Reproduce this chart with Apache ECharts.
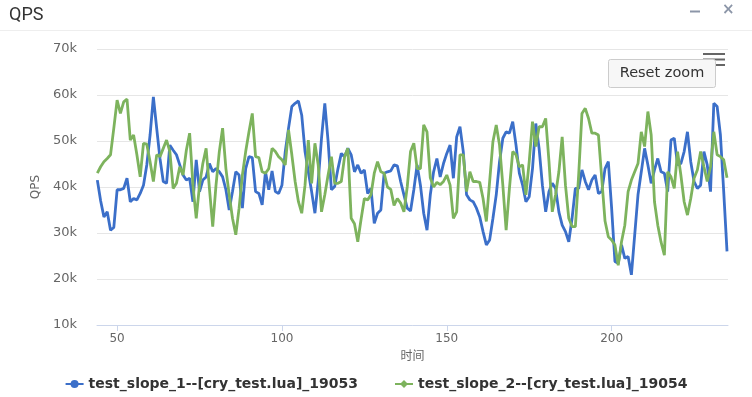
<!DOCTYPE html>
<html><head><meta charset="utf-8">
<script src="https://cdn.jsdelivr.net/npm/echarts@6/dist/echarts.min.js"></script>
<style>html,body{margin:0;padding:0;background:#fff}#c{width:752px;height:397px}</style>
</head><body><div id="c"></div>
<script>
// time axis: first sample time, one sample per time unit
const timeStart = 44;
const seriesNames = ['test_slope_1--[cry_test.lua]_19053', 'test_slope_2--[cry_test.lua]_19054'];
// QPS values in thousands (k)
const qps1 = [
41.5,37,33.5,34.6,30.6,31.2,39.4,39.4,39.7,41.9,36.8,37.5,37.2,38.6,40.4,44.8,51.3,59.6,52.8,46.2,
41.2,40.8,49.1,48,47,44.8,42.6,41.5,41.9,36.8,45.9,39,41.5,42.2,45.1,43.3,44,43.3,42.2,39.4,
35,39,43.3,42.6,35.4,44,46.6,46.4,39,38.6,36.1,43.3,39.4,43.5,39,38.6,40.4,47.7,52.8,57.5,
58.2,58.7,55.6,47.7,43.3,39,34.3,41.2,50.6,58.2,49.9,39.4,40.1,44,47.3,46.6,48.4,47,43.3,44.8,
43,43.7,38.6,39.7,32.1,34.3,35,43,43.3,43.5,44.8,44.6,41.2,38.3,35.4,34.8,39.4,44.8,40.4,34.3,
30.6,38.3,43.3,46.2,42.2,45.1,47.3,49.1,41.9,50.9,53.1,47.7,38.3,37.2,36.8,35.4,33.5,30.3,27.4,28.5,
33.2,38.3,45.5,50.6,52,51.7,54.2,49.1,43,40.4,36.8,37.9,44,53.8,48.4,40.4,34.6,39,40.8,39.7,
34.6,31.7,30.3,28.1,33.2,39.7,39.7,43.7,41.2,39.4,41.5,42.6,38.6,39,44,45.5,35.4,23.8,23.4,27.4,
24.5,24.9,20.9,29.6,38.3,43.3,48.4,44.8,40.8,43.7,46.2,43.3,43,39,50.2,50.6,44.8,45.1,47.7,52,
45.5,41.2,39.7,40.4,47.7,44.8,39,58.2,57.5,51.3,39,26
];
const qps2 = [
43,44.4,45.5,46.2,47,52.8,58.9,56,58.5,59.1,50.2,51.3,47,42.2,49.5,49.3,45.5,41.2,47,46.6,
48.4,50.2,47.7,39.7,40.8,44.4,42.6,48,51.7,40.4,33.2,40.4,45.1,48.4,39.7,31.4,40.4,47.7,52.8,44,
38.3,33.2,29.6,35.4,42.6,47.7,52,56,46.6,46.4,43.3,43,44,48.4,47.7,46.6,45.9,44.8,52.4,47,
41.2,36.8,34.3,40.4,50.2,40.8,49.5,44.8,34.6,38.3,42.6,46.6,40.8,40.8,41.2,46.6,48.4,33.2,32,28.1,
33,37.5,37.2,38.3,43,45.5,43.3,43,40,39.5,36,37.5,36.5,34.6,40,47.7,49.5,44,44,53.5,
52,42,40,41,40.5,41.2,42.6,40.4,33.2,34.6,47,47,39,43.3,41.2,41.2,41,37.5,32.5,41.2,
49.9,53.5,49.1,40.4,30.6,39.7,47.7,47,44.4,44.8,38.3,45.5,54.2,48.8,53.1,53.1,54.9,45.5,34.6,38.3,
43.3,50.9,40.4,33.2,31.4,31.4,42.6,56,57.1,54.9,51.7,51.7,51.3,41.9,32.6,29.2,28.5,27.4,23,28.1,
31.7,39,41.5,43.3,45.1,52,48.8,56.4,51.3,36.8,31.7,28,25.2,43.3,42.2,39.7,47.7,42.6,36.8,33.9,
37.5,41.9,43.7,47.7,44.4,41.2,44.4,52,47,46.6,45.9,42
];
const xTickValues = [50, 100, 150, 200];
const yMin = 10, yMax = 70, yStep = 10;
const seriesColors = ['#3b6fc9', '#7db35d'];

const chart = echarts.init(document.getElementById('c'), null, {renderer: 'canvas'});
const toPairs = arr => arr.map((v, i) => [timeStart + i, v]);
const FONT = 'DejaVu Sans';

const option = {
  animation: false,
  backgroundColor: '#fff',
  title: {
    text: 'QPS', left: 4, top: 1,
    textStyle: {fontSize: 18, fontWeight: 'normal', color: '#333', fontFamily: 'Roboto'}
  },
  grid: {left: 97, right: 24, top: 49, bottom: 72},
  xAxis: {
    type: 'value', min: 43.9, max: 235.3,
    name: '时间', nameLocation: 'middle', nameGap: 24,
    nameTextStyle: {color: '#666', fontSize: 12, fontFamily: 'Noto Sans CJK SC'},
    axisLine: {lineStyle: {color: '#ccd6eb', width: 1}},
    axisTick: {customValues: xTickValues, length: 6, lineStyle: {color: '#ccd6eb'}},
    axisLabel: {customValues: xTickValues, color: '#666', fontSize: 12, fontFamily: FONT, margin: 8},
    splitLine: {show: false}
  },
  yAxis: {
    type: 'value', min: yMin, max: yMax, interval: yStep,
    name: 'QPS', nameLocation: 'middle', nameGap: 55, nameRotate: 90,
    nameTextStyle: {color: '#666', fontSize: 12, fontFamily: FONT},
    axisLabel: {formatter: '{value}k', color: '#666', fontSize: 13, fontFamily: FONT, margin: 20},
    axisLine: {show: false}, axisTick: {show: false},
    splitLine: {lineStyle: {color: '#e6e6e6'}}
  },
  legend: {
    bottom: 1, left: 'center', itemGap: 36, itemWidth: 18, itemHeight: 10,
    textStyle: {fontSize: 14, fontWeight: 'bold', color: '#333', fontFamily: FONT},
    data: seriesNames
  },
  series: [
    {name: seriesNames[0], type: 'line', data: toPairs(qps1), showSymbol: false, symbol: 'circle', symbolSize: 8,
     color: seriesColors[0], lineStyle: {width: 2.8, color: seriesColors[0]}},
    {name: seriesNames[1], type: 'line', data: toPairs(qps2), showSymbol: false, symbol: 'diamond', symbolSize: 8,
     color: seriesColors[1], lineStyle: {width: 2.8, color: seriesColors[1]}}
  ],
  graphic: [
    {type: 'line', shape: {x1: 0, y1: 30.5, x2: 752, y2: 30.5}, style: {stroke: '#eeeeee', lineWidth: 1}},
    {type: 'line', shape: {x1: 690, y1: 11.5, x2: 700, y2: 11.5}, style: {stroke: '#8c96a8', lineWidth: 2}},
    {type: 'text', left: 722, top: 3, style: {text: '×', fontSize: 15, fontWeight: 'bold', fill: '#8c96a8', fontFamily: FONT}},
    {type: 'rect', shape: {x: 703, y: 53, width: 22, height: 2}, style: {fill: '#666'}},
    {type: 'rect', shape: {x: 703, y: 58.5, width: 22, height: 2}, style: {fill: '#666'}},
    {type: 'rect', shape: {x: 703, y: 64, width: 22, height: 2}, style: {fill: '#666'}},
    {type: 'rect', z: 10, shape: {x: 608.5, y: 59.5, width: 107, height: 28, r: 2}, style: {fill: '#f7f7f7', stroke: '#cccccc', lineWidth: 1}},
    {type: 'text', z: 11, x: 662, y: 73.5, style: {text: 'Reset zoom', fontSize: 14.5, fill: '#333', fontFamily: FONT, align: 'center', verticalAlign: 'middle'}}
  ]
};
chart.setOption(option);
</script>
</body></html>
